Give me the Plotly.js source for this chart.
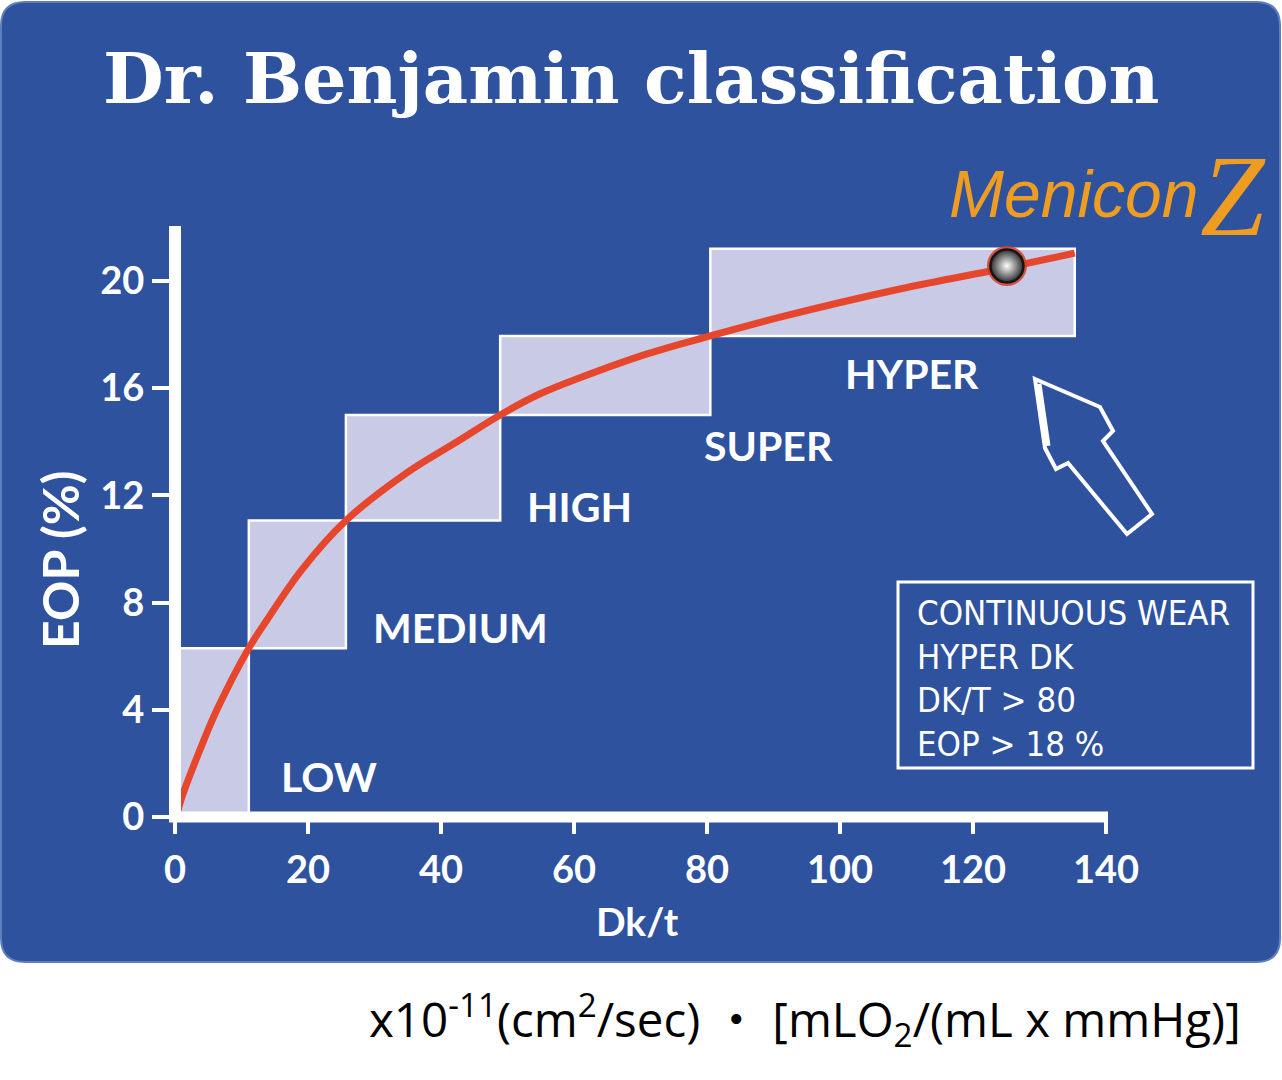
<!DOCTYPE html>
<html>
<head>
<meta charset="utf-8">
<script src="https://cdn.plot.ly/plotly-3.0.1.min.js"></script>
<style>
  html, body { margin: 0; padding: 0; background: #ffffff; }
  #chart { width: 1282px; height: 1080px; }
</style>
</head>
<body>
<div id="chart"></div>
<script>
// ---- Oxygen transmissibility classes (Dk/t) and their EOP ranges ----
const classNames = ['LOW', 'MEDIUM', 'HIGH', 'SUPER', 'HYPER'];
const dkStart    = [0, 11.1, 25.7, 48.9, 80.5];
const dkEnd      = [11.1, 25.7, 48.9, 80.5, 135.3];
const eopLow     = [0, 6.3, 11.06, 15.0, 17.95];
const eopHigh    = [6.3, 11.06, 15.0, 17.95, 21.2];

// where each class name is written
const labelDk  = [23.2, 43.0, 60.8, 89.2, 110.8];
const labelEop = [1.5, 7.08, 11.6, 13.85, 16.54];

// EOP versus Dk/t curve
const curveDk  = [0.4, 1.05, 3.5, 6.3, 11.1, 13.8, 19.0, 25.7, 34.9, 42.4, 48.9, 54.9, 60.9, 71.0, 80.5, 91.0, 109.0, 122.6, 135.3];
const curveEop = [0.2, 0.75, 2.35, 4.0, 6.3, 7.34, 9.2, 11.06, 12.85, 14.0, 15.0, 15.79, 16.39, 17.28, 17.95, 18.65, 19.70, 20.37, 21.04];

// Menicon Z lens on the curve
const lensDk  = [125.1];
const lensEop = [20.56];

// axis ticks
const xTicks = [0, 20, 40, 60, 80, 100, 120, 140];
const yTicks = [0, 4, 8, 12, 16, 20];

// info box lines
const infoLines = ['CONTINUOUS WEAR', 'HYPER DK', 'DK/T > 80', 'EOP > 18 %'];

// ---- page geometry helpers ----
const W = 1282, H = 1080;
const M = { l: 175, r: 176, t: 226, b: 263 };
const PW = W - M.l - M.r, PH = H - M.t - M.b;
const px = v => (v - M.l) / PW;          // page pixel x -> paper fraction
const py = v => (H - M.b - v) / PH;      // page pixel y -> paper fraction

const BLUE = '#2E529E';
const BOX_FILL = '#C9CAE6';
const RED = '#E6462C';
const ORANGE = '#EF9D22';
const LABEL_FONT = 'Lato, "Open Sans", sans-serif';

// ---- traces ----
const traces = [];
classNames.forEach((name, i) => {
  traces.push({
    type: 'scatter', mode: 'lines', name: name,
    x: [dkStart[i], dkEnd[i], dkEnd[i], dkStart[i], dkStart[i]],
    y: [eopLow[i], eopLow[i], eopHigh[i], eopHigh[i], eopLow[i]],
    fill: 'toself', fillcolor: BOX_FILL,
    line: { color: '#ffffff', width: 2.5 },
    hoverinfo: 'skip', showlegend: false
  });
});
traces.push({
  type: 'scatter', mode: 'lines', name: 'EOP',
  x: curveDk, y: curveEop,
  line: { color: RED, width: 7, shape: 'spline', smoothing: 1 },
  hoverinfo: 'skip', showlegend: false
});
// red glow behind the lens bead
traces.push({
  type: 'scatter', mode: 'markers', x: lensDk, y: lensEop,
  marker: { size: 40, color: 'rgba(214,60,40,0.85)', line: { width: 0 } },
  hoverinfo: 'skip', showlegend: false, cliponaxis: false
});
// the lens bead itself: light centre, dark rim
traces.push({
  type: 'scatter', mode: 'markers', x: lensDk, y: lensEop,
  marker: {
    size: 33, color: '#2e2e2e',
    gradient: { type: 'radial', color: '#ffffff' },
    line: { width: 2.5, color: '#151515' }
  },
  hoverinfo: 'skip', showlegend: false, cliponaxis: false
});

// ---- shapes ----
function roundedRect(x0, y0, x1, y1, r) {
  const P = (x, y) => px(x) + ',' + py(y);
  return 'M' + P(x0 + r, y0) +
    ' L' + P(x1 - r, y0) + ' Q' + P(x1, y0) + ' ' + P(x1, y0 + r) +
    ' L' + P(x1, y1 - r) + ' Q' + P(x1, y1) + ' ' + P(x1 - r, y1) +
    ' L' + P(x0 + r, y1) + ' Q' + P(x0, y1) + ' ' + P(x0, y1 - r) +
    ' L' + P(x0, y0 + r) + ' Q' + P(x0, y0) + ' ' + P(x0 + r, y0) + ' Z';
}
function polyPath(pts) {
  return 'M' + pts.map(p => px(p[0]) + ',' + py(p[1])).join(' L') + ' Z';
}

const arrowPts = [[1035, 379], [1100, 407], [1113, 431], [1103, 441], [1152, 514],
                  [1127, 534], [1068, 463], [1056, 469], [1045, 448]];

const shapes = [
  // blue panel
  { type: 'path', xref: 'paper', yref: 'paper', layer: 'below',
    path: roundedRect(1, 2, 1280, 962, 24),
    fillcolor: BLUE, line: { color: '#5F7EBE', width: 2 } },
  // axis lines
  { type: 'line', xref: 'paper', yref: 'paper', layer: 'above',
    x0: 0, x1: 0, y0: 0, y1: 1, line: { color: '#ffffff', width: 12 } },
  { type: 'line', xref: 'paper', yref: 'paper', layer: 'above',
    x0: -6 / PW, x1: 1 + 2 / PW, y0: 0, y1: 0, line: { color: '#ffffff', width: 11 } },
  // pointer arrow
  { type: 'path', xref: 'paper', yref: 'paper', layer: 'above',
    path: polyPath(arrowPts), fillcolor: 'rgba(0,0,0,0)',
    line: { color: '#ffffff', width: 4 } },
  { type: 'path', xref: 'paper', yref: 'paper', layer: 'above',
    path: 'M' + px(1038) + ',' + py(384) + ' L' + px(1047) + ',' + py(446),
    line: { color: '#ffffff', width: 7 } },
  // info box frame
  { type: 'rect', xref: 'paper', yref: 'paper', layer: 'above',
    x0: px(898), x1: px(1253), y0: py(582), y1: py(768),
    fillcolor: 'rgba(0,0,0,0)', line: { color: '#ffffff', width: 3 } }
];

// ---- annotations ----
const annotations = [];
classNames.forEach((name, i) => {
  annotations.push({
    text: name, x: labelDk[i], y: labelEop[i], xref: 'x', yref: 'y',
    showarrow: false, xanchor: 'center', yanchor: 'middle',
    font: { family: LABEL_FONT, size: 41, color: '#ffffff', weight: 700 }
  });
});
infoLines.forEach((t, i) => {
  annotations.push({
    text: t, x: px(915), y: py(613 + i * 43.5), xref: 'paper', yref: 'paper',
    showarrow: false, xanchor: 'left', yanchor: 'middle',
    font: { family: '"Liberation Sans Narrow", "DejaVu Sans Condensed", "Open Sans", sans-serif', size: 34.5, color: '#ffffff' }
  });
});
annotations.push(
  { // title
    text: 'Dr. Benjamin classification', x: px(631), y: py(78), xref: 'paper', yref: 'paper',
    showarrow: false, xanchor: 'center', yanchor: 'middle',
    font: { family: '"DejaVu Serif", "Liberation Serif", serif', size: 70, color: '#ffffff', weight: 700 }
  },
  { // brand mark
    text: 'Menicon', x: px(1200), y: py(194), xref: 'paper', yref: 'paper',
    showarrow: false, xanchor: 'right', yanchor: 'middle',
    font: { family: '"Liberation Sans", sans-serif', size: 66, color: ORANGE, style: 'italic' }
  },
  {
    text: 'Z', x: px(1233), y: py(196), xref: 'paper', yref: 'paper',
    showarrow: false, xanchor: 'center', yanchor: 'middle',
    font: { family: '"Liberation Serif", serif', size: 116, color: ORANGE, style: 'italic' }
  },
  { // axis titles
    text: 'Dk/t', x: px(637), y: py(921), xref: 'paper', yref: 'paper',
    showarrow: false, xanchor: 'center', yanchor: 'middle',
    font: { family: LABEL_FONT, size: 39, color: '#ffffff', weight: 700 }
  },
  {
    text: 'EOP (%)', x: px(60), y: py(560), xref: 'paper', yref: 'paper',
    showarrow: false, xanchor: 'center', yanchor: 'middle', textangle: -90,
    font: { family: LABEL_FONT, size: 50, color: '#ffffff', weight: 700 }
  },
  { // unit line under the panel
    text: 'x10<sup>-11</sup>(cm<sup>2</sup>/sec) ・ [mLO<sub>2</sub>/(mL x mmHg)]',
    x: px(805), y: py(1019), xref: 'paper', yref: 'paper',
    showarrow: false, xanchor: 'center', yanchor: 'middle',
    font: { family: '"Open Sans", "Noto Sans CJK JP", sans-serif', size: 47.5, color: '#000000' }
  }
);

const layout = {
  width: W, height: H,
  margin: M,
  paper_bgcolor: '#ffffff',
  plot_bgcolor: 'rgba(0,0,0,0)',
  showlegend: false,
  xaxis: {
    range: [0, 140], showgrid: false, zeroline: false, showline: false,
    tickmode: 'array', tickvals: xTicks, ticktext: xTicks.map(String),
    ticks: 'outside', ticklen: 16, tickwidth: 4, tickcolor: '#ffffff',
    ticklabelstandoff: 3,
    tickfont: { family: LABEL_FONT, size: 38, color: '#ffffff', weight: 700 },
    fixedrange: true
  },
  yaxis: {
    range: [0, 22.05], showgrid: false, zeroline: false, showline: false,
    tickmode: 'array', tickvals: yTicks, ticktext: yTicks.map(String),
    ticks: 'outside', ticklen: 22, tickwidth: 4, tickcolor: '#ffffff',
    ticklabelstandoff: 0,
    tickfont: { family: LABEL_FONT, size: 38, color: '#ffffff', weight: 700 },
    fixedrange: true
  },
  shapes: shapes,
  annotations: annotations
};

Plotly.newPlot('chart', traces, layout, { staticPlot: true, displayModeBar: false });
</script>
</body>
</html>
